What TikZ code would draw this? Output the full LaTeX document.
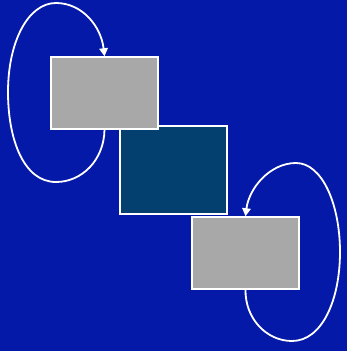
\documentclass[tikz,border=0pt]{standalone}
\usetikzlibrary{arrows.meta, positioning}

\definecolor{bgblue}{RGB}{5,25,168}
\definecolor{boxgray}{RGB}{168,168,168}
\definecolor{boxnavy}{RGB}{3,64,112}

\begin{document}
\begin{tikzpicture}[x=1pt, y=-1pt, >={Triangle[width=8.5pt, length=8pt]},
  box/.style={draw=white, line width=1.5pt, minimum width=107pt,
              minimum height=72pt, inner sep=0pt},
  selfloop/.style={->, draw=white, line width=1.8pt}]
  % background
  \fill[bgblue] (0,0) rectangle (347,351);
  \useasboundingbox (0,0) rectangle (347,351);

  % boxes
  \node[box, fill=boxnavy, minimum height=88pt] (mid) at (173.5,170) {};
  \node[box, fill=boxgray] (upper) at (104.5,93) {};
  \node[box, fill=boxgray] (lower) at (245.5,253) {};

  % self loops
  \draw[selfloop] (upper.south) .. controls (104,160) and (82,182) .. (56,182)
    .. controls (24,182) and (8,140) .. (8,92)
    .. controls (8,42) and (28,3) .. (56,3)
    .. controls (82,3) and (101,26) .. (upper.north);
  \draw[selfloop] (lower.south) .. controls (245,318) and (266,341) .. (292,341)
    .. controls (322,341) and (340,300) .. (340,252)
    .. controls (340,204) and (322,163) .. (296,163)
    .. controls (270,163) and (249,188) .. (lower.north);
\end{tikzpicture}
\end{document}
